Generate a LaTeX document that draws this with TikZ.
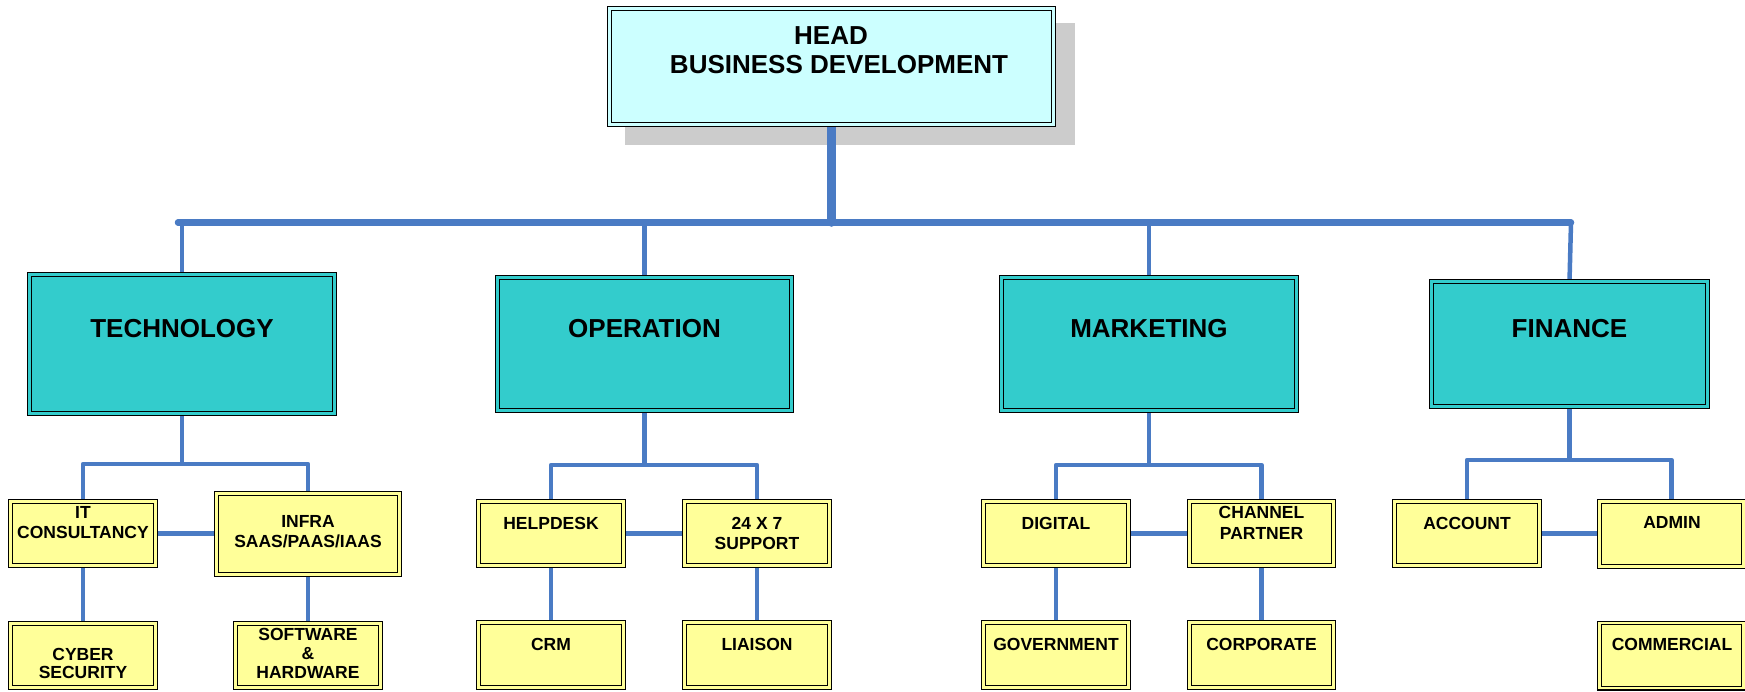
\documentclass[tikz,border=0pt]{standalone}
\usepackage{fontspec}
\setmainfont{Liberation Sans}
\pgfdeclarelayer{shadowlayer}
\pgfdeclarelayer{linelayer}
\pgfsetlayers{shadowlayer,linelayer,main}
\definecolor{headfill}{HTML}{CCFFFF}
\definecolor{tealfill}{HTML}{33CCCC}
\definecolor{yelfill}{HTML}{FFFF99}
\definecolor{linkblue}{HTML}{4A7BC4}
\definecolor{shadowgray}{HTML}{CCCCCC}
\tikzset{
  dbox/.style={draw=black, line width=1.1pt, double distance=2.6pt, inner sep=0pt, outer sep=0pt},
  sz/.style 2 args={minimum width=#1pt-4.8pt, minimum height=#2pt-4.8pt},
  headbox/.style={dbox, fill=headfill, double=headfill},
  deptbox/.style={dbox, fill=tealfill, double=tealfill},
  subbox/.style={dbox, fill=yelfill, double=yelfill},
  headtext/.style={anchor=north, inner sep=0pt, align=center, font=\bfseries\fontsize{26}{29}\selectfont},
  depttext/.style={anchor=north, inner sep=0pt, font=\bfseries\fontsize{26}{29}\selectfont},
  subtext/.style={anchor=north, inner sep=0pt, align=center, font=\bfseries\fontsize{17.5}{#1}\selectfont},
  subtext/.default=20,
  trunk/.style={draw=linkblue, line width=8.5pt, line cap=round},
  busline/.style={draw=linkblue, line width=6.5pt, line cap=round},
  drop/.style={draw=linkblue, line width=4.5pt},
  branch/.style={draw=linkblue, line width=4.8pt, line join=round},
}
\begin{document}
\begin{tikzpicture}[x=1pt,y=-1pt]
\useasboundingbox (0,0) rectangle (1745,691);
% boxes
\node[headbox, sz={449}{121}] (head) at (831.5,66.5) {};
\node[deptbox, sz={310}{144}] (tech) at (182,344) {};
\node[deptbox, sz={299}{138}] (oper) at (644.5,344) {};
\node[deptbox, sz={300}{138}] (mark) at (1149,344) {};
\node[deptbox, sz={281}{130}] (fin) at (1569.5,344) {};
\node[subbox, sz={150}{69}] (it) at (83,533.5) {};
\node[subbox, sz={188}{86}] (infra) at (308,534) {};
\node[subbox, sz={150}{69}] (cyber) at (83,655.5) {};
\node[subbox, sz={150}{69}] (soft) at (308,655.5) {};
\node[subbox, sz={150}{69}] (help) at (551,533.5) {};
\node[subbox, sz={150}{69}] (sup) at (757,533.5) {};
\node[subbox, sz={150}{70}] (crm) at (551,655) {};
\node[subbox, sz={150}{70}] (liai) at (757,655) {};
\node[subbox, sz={150}{69}] (dig) at (1056,533.5) {};
\node[subbox, sz={149}{69}] (chan) at (1261.5,533.5) {};
\node[subbox, sz={150}{70}] (gov) at (1056,655) {};
\node[subbox, sz={149}{70}] (corp) at (1261.5,655) {};
\node[subbox, sz={150}{69}] (acct) at (1467,533.5) {};
\node[subbox, sz={149}{70}] (admin) at (1671.5,534) {};
\node[subbox, sz={149}{70}] (comm) at (1671.5,655.5) {};
% texts
\node[headtext] (headT) at (831,26.8) {HEAD\\\hspace*{16pt}BUSINESS DEVELOPMENT};
\node[depttext] (techT) at (182,319.5) {TECHNOLOGY};
\node[depttext] (operT) at (644.5,319) {OPERATION};
\node[depttext] (markT) at (1149,319) {MARKETING};
\node[depttext] (finT) at (1569.5,319) {FINANCE};
\node[subtext] (itT) at (83,506.7) {IT\\CONSULTANCY};
\node[subtext] (infraT) at (308,515.7) {INFRA\\SAAS/PAAS/IAAS};
\node[subtext=18.5] (cyberT) at (83,647.7) {CYBER\\SECURITY};
\node[subtext=19] (softT) at (308,627.7) {SOFTWARE\\\&\\HARDWARE};
\node[subtext] (helpT) at (551,516.7) {HELPDESK};
\node[subtext] (supT) at (757,516.7) {24 X 7\\SUPPORT};
\node[subtext] (crmT) at (551,637.7) {CRM};
\node[subtext] (liaiT) at (757,637.7) {LIAISON};
\node[subtext] (digT) at (1056,516.7) {DIGITAL};
\node[subtext=21] (chanT) at (1261.5,505.7) {CHANNEL\\PARTNER};
\node[subtext] (govT) at (1056,637.7) {GOVERNMENT};
\node[subtext] (corpT) at (1261.5,637.7) {CORPORATE};
\node[subtext] (acctT) at (1467,516.7) {ACCOUNT};
\node[subtext] (adminT) at (1672,516.7) {ADMIN};
\node[subtext] (commT) at (1672,637.7) {COMMERCIAL};
% shadow
\begin{pgfonlayer}{shadowlayer}
\fill[shadowgray] (625,23) rectangle (1075,145);
\end{pgfonlayer}
% connectors
\begin{pgfonlayer}{linelayer}
\coordinate (busL) at (178,222.5);
\coordinate (busR) at (1571,222.5);
\coordinate (tj) at (182,464);
\coordinate (oj) at (644.5,465);
\coordinate (mj) at (1149,465);
\coordinate (fj) at (1569.5,460);
\draw[busline] (busL) -- (busR);
\draw[trunk] (head.south) -- (head.south |- busL);
\draw[drop] (tech.north) -- (tech.north |- busL);
\draw[drop] (oper.north) -- (oper.north |- busL);
\draw[drop] (mark.north) -- (mark.north |- busL);
\draw[drop] (fin.north) -- (busR);
% technology
\draw[branch] (tech.south) -- (tj);
\draw[branch] (it.north) |- (tj) -| (infra.north);
\draw[branch] (it.east) -- (infra.west |- it.east);
\draw[branch] (it.south) -- (cyber.north);
\draw[branch] (infra.south) -- (soft.north);
% operation
\draw[branch] (oper.south) -- (oj);
\draw[branch] (help.north) |- (oj) -| (sup.north);
\draw[branch] (help.east) -- (sup.west);
\draw[branch] (help.south) -- (crm.north);
\draw[branch] (sup.south) -- (liai.north);
% marketing
\draw[branch] (mark.south) -- (mj);
\draw[branch] (dig.north) |- (mj) -| (chan.north);
\draw[branch] (dig.east) -- (chan.west);
\draw[branch] (dig.south) -- (gov.north);
\draw[branch] (chan.south) -- (corp.north);
% finance
\draw[branch] (fin.south) -- (fj);
\draw[branch] (acct.north) |- (fj) -| (admin.north);
\draw[branch] (acct.east) -- (admin.west |- acct.east);
\end{pgfonlayer}
\end{tikzpicture}
\end{document}
